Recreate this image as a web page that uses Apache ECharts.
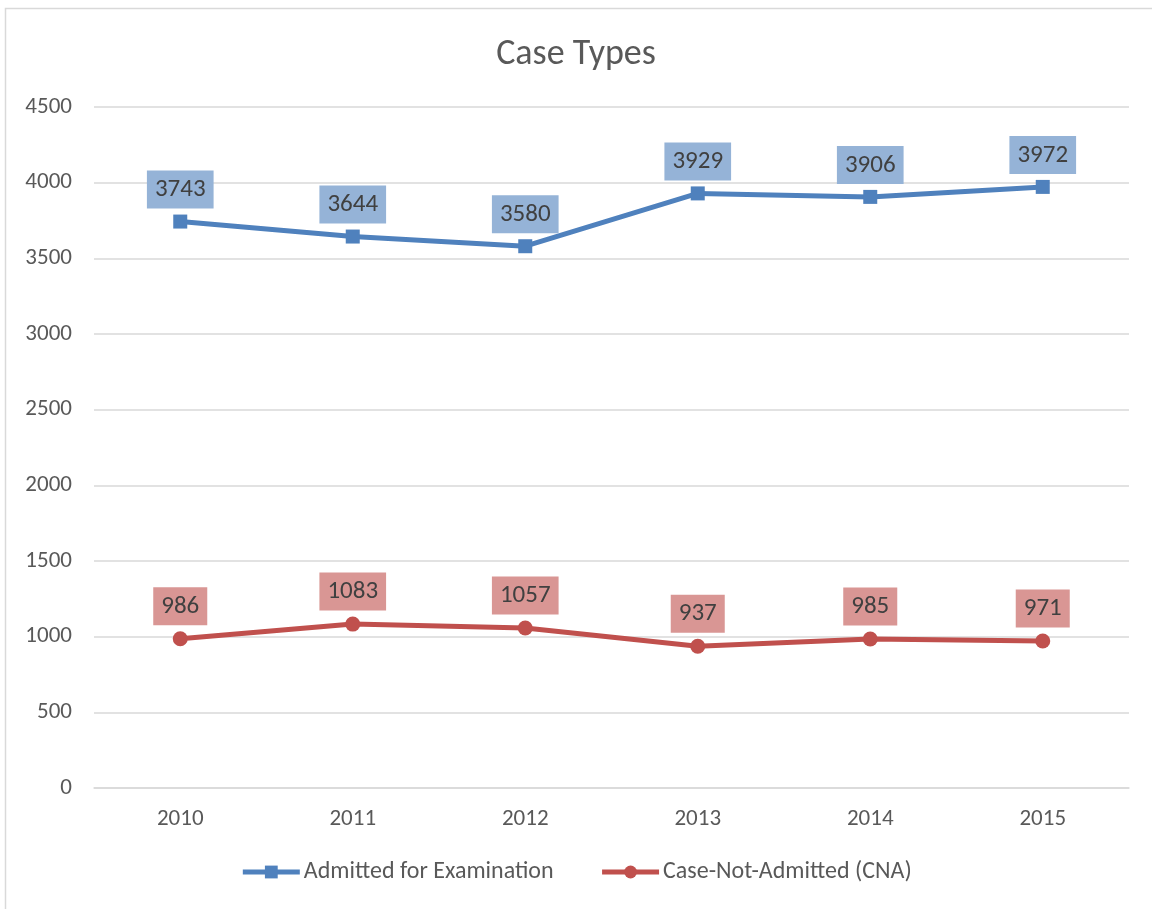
<!DOCTYPE html>
<html><head><meta charset="utf-8">
<script src="https://cdn.jsdelivr.net/npm/echarts@6/dist/echarts.min.js"></script>
<style>html,body{margin:0;padding:0;background:#fff}#c{width:1152px;height:909px}</style>
</head><body><div id="c"></div>
<script>
const years = ['2010','2011','2012','2013','2014','2015'];
const admitted = [3743, 3644, 3580, 3929, 3906, 3972];
const cna = [986, 1083, 1057, 937, 985, 971];
const FONT = 'Carlito, Calibri, Lato, "Open Sans", sans-serif';
const chart = echarts.init(document.getElementById('c'));
function lbl(bg){
  return {show:true, position:'top', distance:6, fontFamily:FONT, fontSize:25, lineHeight:25, color:'#404040',
    backgroundColor:bg, padding:[7,8,6,8]};
}
chart.setOption({
  animation:false,
  title:{text:'Case Types', left:'center', top:32, textStyle:{fontFamily:FONT, fontSize:36, fontWeight:'normal', color:'#595959'}},
  graphic:[{type:'rect', shape:{x:5.5,y:8.5,width:1170,height:930}, style:{fill:'none', stroke:'#d9d9d9', lineWidth:1.5}, silent:true}],
  grid:{left:94, right:23, top:107, bottom:121},
  legend:{bottom:20, left:'center', itemWidth:57, itemHeight:16, itemGap:46,
    lineStyle:{width:5},
    textStyle:{fontFamily:FONT, fontSize:24, color:'#595959', padding:[0,0,0,-1]},
    data:[{name:'Admitted for Examination'},{name:'Case-Not-Admitted (CNA)'}]},
  xAxis:{type:'category', data:years, axisTick:{show:false},
    axisLine:{lineStyle:{color:'#d9d9d9', width:1.5}},
    axisLabel:{fontFamily:FONT, fontSize:23, color:'#595959', margin:20}},
  yAxis:{type:'value', min:0, max:4500, interval:500,
    splitLine:{lineStyle:{color:'#d9d9d9', width:1.5}},
    axisLabel:{fontFamily:FONT, fontSize:23, color:'#595959', margin:22, formatter:function(v){return String(v);}}},
  series:[
    {name:'Admitted for Examination', type:'line', data:admitted, symbol:'rect', symbolSize:14,
      lineStyle:{color:'#4F81BD', width:5}, itemStyle:{color:'#4F81BD'}, label:lbl('#95B3D7')},
    {name:'Case-Not-Admitted (CNA)', type:'line', data:cna, symbol:'circle', symbolSize:15,
      lineStyle:{color:'#C0504D', width:5}, itemStyle:{color:'#C0504D'}, label:lbl('#D99694')}
  ]
});
</script></body></html>
